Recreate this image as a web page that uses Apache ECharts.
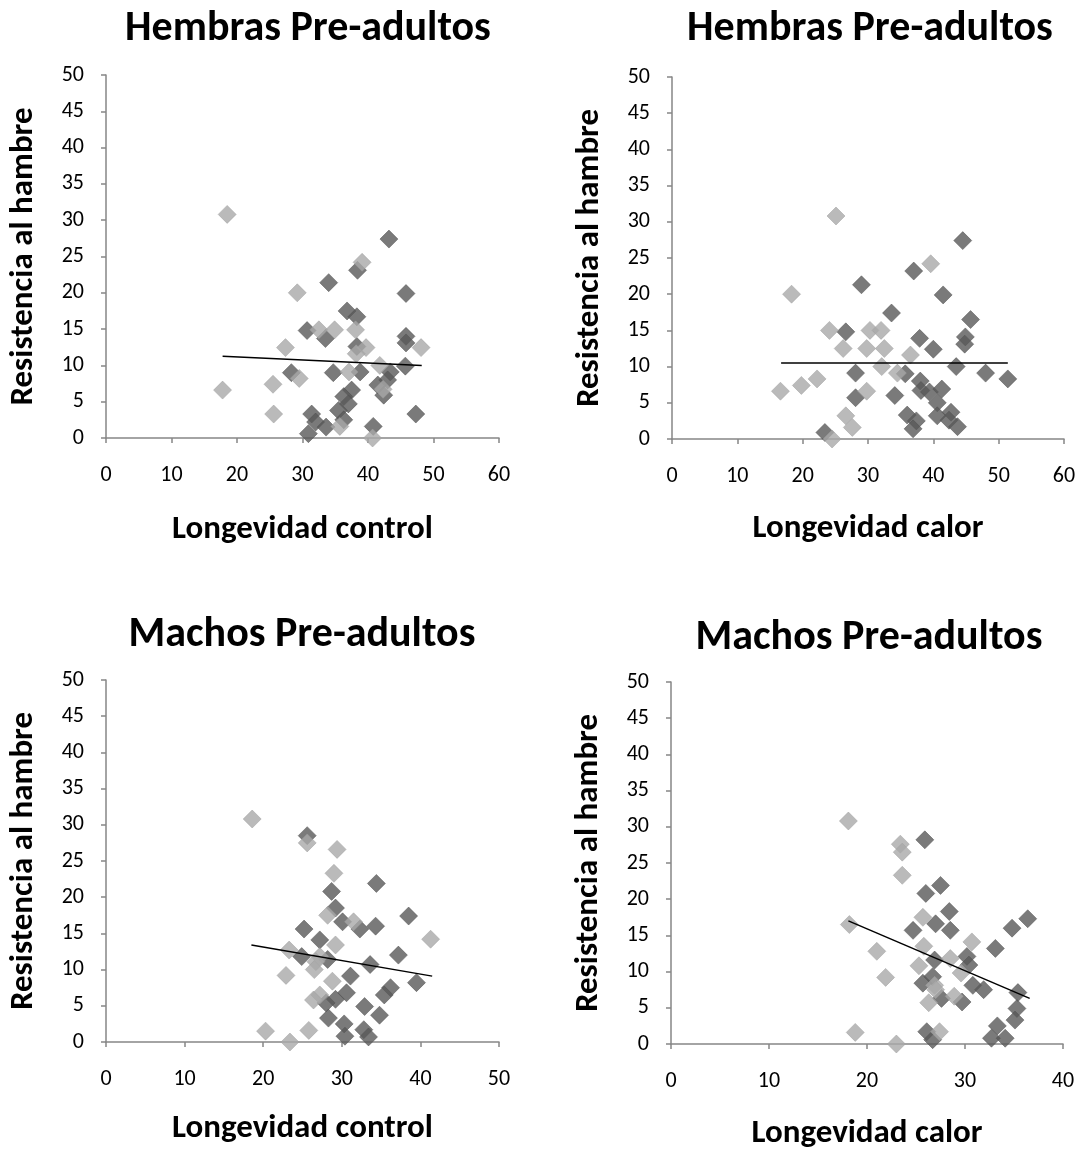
<!DOCTYPE html>
<html>
<head>
<meta charset="utf-8">
<script src="https://cdn.jsdelivr.net/npm/echarts@6/dist/echarts.min.js"></script>
<style>
  html, body { margin: 0; padding: 0; background: #fff; }
  #chart { width: 1083px; height: 1155px; }
</style>
</head>
<body>
<div id="chart"></div>
<script>
// Hembras control
const hcDark = [[43.2,27.4],[34.0,21.4],[38.4,23.1],[45.8,19.9],[36.8,17.5],[38.3,16.7],[30.7,14.8],[33.5,13.7],[45.8,14.0],[45.8,13.1],[38.3,12.6],[28.3,9.0],[34.7,9.0],[38.8,9.1],[45.7,9.9],[43.4,9.1],[43.0,8.0],[41.5,7.3],[42.4,5.9],[37.5,6.6],[36.3,5.7],[37.0,4.7],[35.5,3.8],[36.3,2.5],[31.4,3.3],[32.0,2.2],[33.6,1.5],[30.9,0.6],[47.3,3.3],[40.8,1.6]];
const hcLight = [[18.5,30.8],[17.8,6.6],[27.4,12.45],[25.5,7.4],[25.6,3.3],[29.2,20.0],[29.5,8.2],[32.5,14.9],[34.9,14.9],[38.1,14.9],[39.1,24.2],[39.7,12.45],[38.2,11.6],[37.1,9.1],[35.7,1.6],[40.7,0],[41.8,10.0],[42.3,6.7],[48.1,12.45]];
const hcTrend = [[17.8,11.26],[48.2,10.0]];

// Hembras calor
const hkDark = [[44.5,27.4],[37.0,23.2],[29.0,21.3],[41.5,19.9],[33.6,17.4],[45.7,16.5],[26.6,14.8],[37.9,13.9],[44.9,14.1],[44.8,13.1],[40.0,12.4],[28.1,9.1],[35.7,9.0],[43.5,10.0],[48.0,9.1],[51.4,8.3],[38.0,8.0],[38.1,6.7],[39.4,6.5],[41.3,6.9],[34.1,6.0],[28.1,5.7],[40.6,5.0],[40.6,3.2],[36.0,3.3],[37.4,2.5],[36.9,1.4],[42.7,3.7],[42.4,2.6],[43.7,1.7],[23.4,0.9]];
const hkLight = [[25.1,30.8],[18.3,20.0],[16.6,6.6],[19.8,7.4],[22.2,8.3],[24.1,15.0],[26.2,12.5],[30.3,15.0],[32.0,15.0],[29.8,12.5],[32.5,12.5],[32.1,10.0],[34.5,9.1],[36.5,11.6],[39.6,24.2],[29.8,6.6],[26.6,3.2],[27.6,1.6],[24.5,0]];
const hkTrend = [[16.7,10.5],[51.4,10.5]];

// Machos control
const mcDark = [[25.6,28.5],[34.4,21.9],[28.7,20.8],[29.2,18.5],[30.1,16.6],[32.3,15.6],[34.3,16.0],[38.5,17.4],[25.2,15.6],[27.2,14.1],[24.9,11.8],[28.2,11.4],[33.6,10.7],[37.2,12.0],[31.1,9.1],[39.5,8.2],[30.6,6.8],[36.2,7.5],[35.4,6.5],[29.2,5.9],[28.0,5.4],[32.9,4.9],[34.8,3.7],[28.3,3.3],[30.3,2.5],[32.8,1.7],[33.4,0.7],[30.4,0.8]];
const mcLight = [[18.6,30.8],[25.6,27.5],[29.4,26.6],[29.0,23.3],[28.2,17.5],[31.5,16.6],[41.3,14.2],[23.3,12.7],[29.2,13.4],[27.2,11.8],[26.7,11.1],[26.5,10.0],[22.9,9.2],[28.8,8.4],[27.2,6.5],[26.4,5.8],[25.8,1.6],[20.3,1.5],[23.4,0]];
const mcTrend = [[18.5,13.4],[41.5,9.1]];

// Machos calor
const mkDark = [[25.9,28.2],[27.5,21.9],[26.0,20.8],[28.4,18.3],[36.4,17.3],[34.8,16.0],[27.0,16.6],[28.5,15.7],[24.7,15.7],[33.1,13.2],[30.2,12.1],[30.4,10.9],[26.9,11.6],[26.7,9.3],[25.7,8.4],[30.8,8.1],[31.9,7.5],[35.4,7.1],[27.6,6.3],[29.7,5.8],[35.3,4.9],[35.1,3.3],[33.3,2.5],[26.1,1.7],[26.7,0.6],[32.7,0.8],[34.1,0.8]];
const mkLight = [[18.1,30.8],[23.4,27.6],[23.6,26.5],[23.6,23.3],[18.2,16.5],[25.7,17.5],[21.0,12.8],[25.8,13.5],[30.7,14.1],[28.5,11.8],[25.3,10.8],[29.6,9.8],[21.9,9.2],[26.9,8.1],[27.0,7.5],[28.9,6.6],[26.3,5.7],[27.4,1.7],[18.8,1.6],[23.0,0]];
const mkTrend = [[18.1,17.0],[36.6,6.3]];

const titles = ['Hembras Pre-adultos', 'Hembras Pre-adultos', 'Machos Pre-adultos', 'Machos Pre-adultos'];
const xNames = ['Longevidad control', 'Longevidad calor', 'Longevidad control', 'Longevidad calor'];
const yName = 'Resistencia al hambre';
const xMax = [60, 60, 50, 40];

const FONT = 'Carlito, Lato, sans-serif';
const DARK = '#595959';
const LIGHT = '#a9a9a9';

const panels = [
  { dark: hcDark, light: hcLight, trend: hcTrend },
  { dark: hkDark, light: hkLight, trend: hkTrend },
  { dark: mcDark, light: mcLight, trend: mcTrend },
  { dark: mkDark, light: mkLight, trend: mkTrend }
];

// posiciones de cada panel
const grids = [
  { left: 106, top: 75, width: 393, height: 363 },
  { left: 672, top: 77, width: 392, height: 362 },
  { left: 106, top: 680, width: 393, height: 362 },
  { left: 671, top: 682, width: 392, height: 362 }
];
const titlePos = [[303, 3], [865, 3], [297, 609], [864, 612]];
const xNameGap = [75, 73, 70, 73];

const axisGray = '#868686';

const option = {
  animation: false,
  backgroundColor: '#fff',
  title: titles.map((t, i) => ({
    text: t,
    left: titlePos[i][0],
    top: titlePos[i][1],
    textAlign: 'center',
    textStyle: { fontFamily: FONT, fontSize: 42, fontWeight: 'bold', color: '#000' }
  })),
  grid: grids.map(g => Object.assign({ containLabel: false }, g)),
  xAxis: xMax.map((m, i) => ({
    type: 'value',
    gridIndex: i,
    min: 0,
    max: m,
    interval: 10,
    name: xNames[i],
    nameLocation: 'middle',
    nameGap: xNameGap[i],
    nameTextStyle: { fontFamily: FONT, fontSize: 33, fontWeight: 'bold', color: '#000' },
    axisLine: { onZero: false, lineStyle: { color: axisGray, width: 1.5 } },
    axisTick: { show: true, inside: false, length: 5, lineStyle: { color: axisGray, width: 1.5 } },
    axisLabel: { margin: 26, fontFamily: FONT, fontSize: 22, color: '#000' },
    splitLine: { show: false }
  })),
  yAxis: xMax.map((m, i) => ({
    type: 'value',
    gridIndex: i,
    min: 0,
    max: 50,
    interval: 5,
    name: yName,
    nameLocation: 'middle',
    nameRotate: 90,
    nameGap: 66,
    nameTextStyle: { fontFamily: FONT, fontSize: 33, fontWeight: 'bold', color: '#000' },
    axisLine: { show: true, onZero: false, lineStyle: { color: axisGray, width: 1.5 } },
    axisTick: { show: true, inside: false, length: 5, lineStyle: { color: axisGray, width: 1.5 } },
    axisLabel: { margin: 22, fontFamily: FONT, fontSize: 22, color: '#000' },
    splitLine: { show: false }
  })),
  series: []
};

panels.forEach((p, i) => {
  option.series.push({
    type: 'scatter',
    xAxisIndex: i,
    yAxisIndex: i,
    symbol: 'diamond',
    symbolSize: 18,
    itemStyle: { color: DARK, borderColor: '#4d4d4d', borderWidth: 0.6 },
    data: p.dark,
    z: 2
  });
  option.series.push({
    type: 'scatter',
    xAxisIndex: i,
    yAxisIndex: i,
    symbol: 'diamond',
    symbolSize: 18,
    itemStyle: { color: LIGHT, borderColor: '#9c9c9c', borderWidth: 0.6 },
    data: p.light,
    z: 3
  });
  option.series.push({
    type: 'line',
    xAxisIndex: i,
    yAxisIndex: i,
    symbol: 'none',
    lineStyle: { color: '#000', width: 1.5 },
    data: p.trend,
    z: 4
  });
});

const chart = echarts.init(document.getElementById('chart'), null, { renderer: 'canvas' });
chart.setOption(option);
window.addEventListener('resize', () => chart.resize());
</script>
</body>
</html>
